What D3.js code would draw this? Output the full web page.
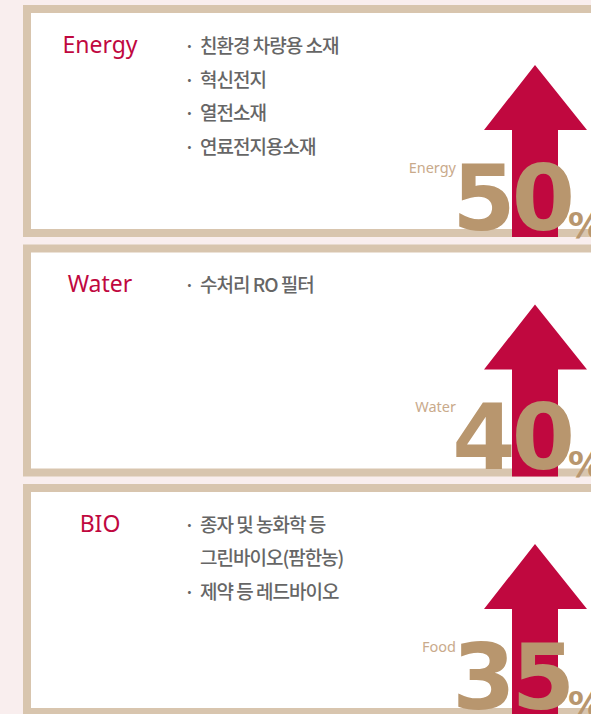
<!DOCTYPE html>
<html>
<head>
    <meta charset="utf-8">
    <script src="https://cdnjs.cloudflare.com/ajax/libs/d3/7.8.5/d3.min.js"></script>
    <style>
        html, body {
            margin: 0;
            padding: 0;
            background: #f9eeee;
            overflow: hidden;
        }
        .title {
            font-family: "Noto Sans", sans-serif;
            font-size: 23px;
            fill: #c0083f;
        }
        .item {
            font-family: "Noto Sans CJK KR", sans-serif;
            font-size: 19px;
            font-weight: 500;
            fill: #666;
            letter-spacing: -1px;
        }
        .small-label {
            font-family: "Noto Sans", sans-serif;
            font-size: 14.5px;
            fill: #c9aa8b;
        }
        .big-num {
            font-family: "DejaVu Sans", sans-serif;
            font-weight: bold;
            font-size: 91px;
            fill: #b8966e;
            letter-spacing: -4px;
        }
        .pct {
            font-family: "DejaVu Sans", sans-serif;
            font-weight: bold;
            font-size: 35px;
            fill: #b8966e;
        }
    </style>
</head>
<body>
    <div id="chart"></div>

    <script>
        const width = 591;
        const height = 714;

        // data
        const categories = ["Energy", "Water", "BIO"];
        const marketLabels = ["Energy", "Water", "Food"];
        const shares = [50, 40, 35];
        const items = [
            ["· 친환경 차량용 소재", "· 혁신전지", "· 열전소재", "· 연료전지용소재"],
            ["· 수처리 RO 필터"],
            ["· 종자 및 농화학 등", "  그린바이오(팜한농)", "· 제약 등 레드바이오"]
        ];

        const frameColor = "#d8c5ae";
        const red = "#c0083f";
        const border = 8;

        const svg = d3.select("#chart")
            .append("svg")
            .attr("width", width)
            .attr("height", height);

        // one band per panel
        const y = d3.scaleBand()
            .domain(categories)
            .range([5, 716])
            .paddingInner(0.0313)
            .paddingOuter(0);

        const rows = categories.map((c, i) => ({
            cat: c,
            label: marketLabels[i],
            value: shares[i],
            lines: items[i]
        }));

        const panel = svg.selectAll("g.panel")
            .data(rows)
            .enter()
            .append("g")
            .attr("class", "panel")
            .attr("transform", d => `translate(0,${y(d.cat)})`);

        const bw = y.bandwidth();

        // frame
        panel.append("rect")
            .attr("x", 23)
            .attr("y", 0)
            .attr("width", 640)
            .attr("height", bw)
            .attr("fill", frameColor);

        panel.append("rect")
            .attr("x", 23 + border)
            .attr("y", border)
            .attr("width", 640)
            .attr("height", bw - border * 2)
            .attr("fill", "#fff");

        // title
        panel.append("text")
            .attr("class", "title")
            .attr("x", 100)
            .attr("y", 48)
            .attr("text-anchor", "middle")
            .text(d => d.cat);

        // bullet lines
        panel.each(function(d) {
            const g = d3.select(this);
            d.lines.forEach((t, j) => {
                const bullet = t.startsWith("·");
                const body = t.replace(/^[·\s]+/, "");
                if (bullet) {
                    g.append("text")
                        .attr("class", "item")
                        .attr("x", 189)
                        .attr("y", 48 + j * 33.5)
                        .attr("text-anchor", "middle")
                        .text("·");
                }
                g.append("text")
                    .attr("class", "item")
                    .attr("x", 200)
                    .attr("y", 48 + j * 33.5)
                    .text(body);
            });
        });

        // arrow
        const arrow = d3.line();
        panel.append("path")
            .attr("d", () => arrow([
                [535, 60], [587, 125], [558, 125], [558, bw],
                [512, bw], [512, 125], [484, 125]
            ]) + "Z")
            .attr("fill", red);

        // market label
        panel.append("text")
            .attr("class", "small-label")
            .attr("x", 456)
            .attr("y", 168)
            .attr("text-anchor", "end")
            .text(d => d.label);

        // big number
        panel.append("text")
            .attr("class", "big-num")
            .attr("x", 571)
            .attr("y", 225)
            .attr("text-anchor", "end")
            .text(d => d.value);

        panel.append("text")
            .attr("class", "pct")
            .attr("x", 568)
            .attr("y", 233)
            .text("%");
    </script>
</body>
</html>
